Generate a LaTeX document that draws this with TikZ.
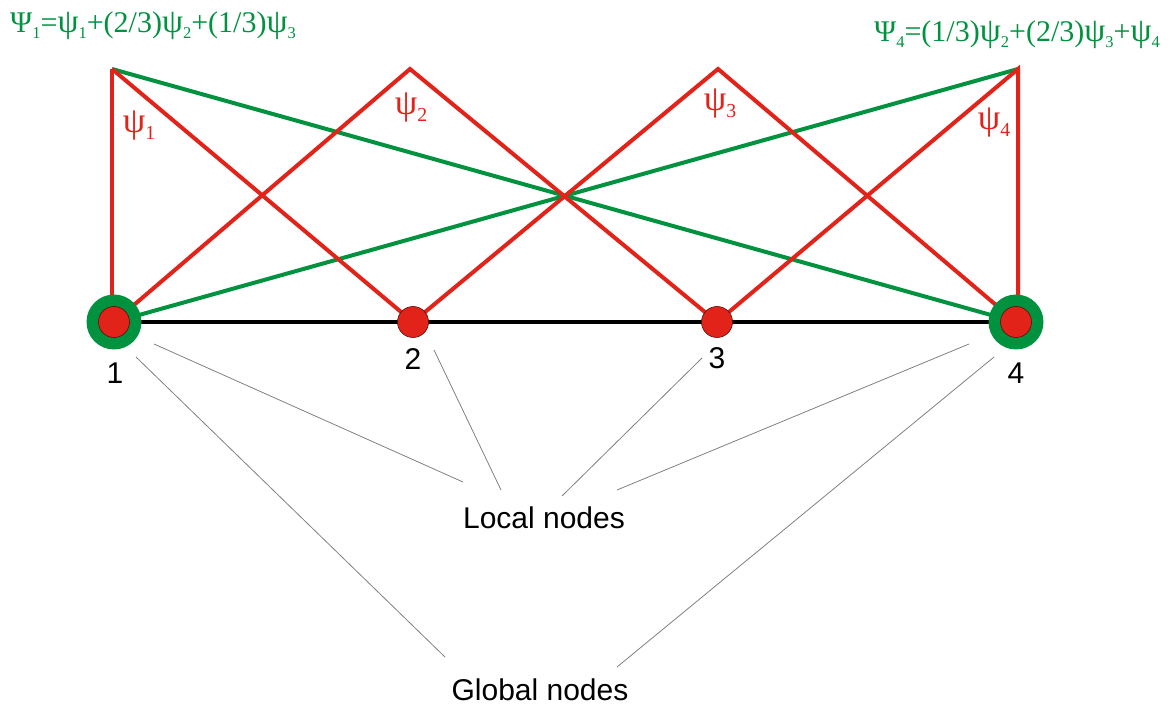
\documentclass[tikz,border=0pt]{standalone}
\usepackage{fontspec}
\setmainfont{Liberation Sans}
\newfontfamily\serifgreek{Liberation Serif}
\definecolor{fgreen}{RGB}{0,146,63}
\definecolor{fred}{RGB}{226,35,26}
\newcommand{\sbx}[1]{\raisebox{-0.18em}{\fontsize{0.55em}{0.6em}\selectfont #1}}
\newcommand{\bpsi}{{\fontsize{1.12em}{1.2em}\selectfont ψ}}
\begin{document}
\begin{tikzpicture}[x=1pt,y=-1pt,
  redline/.style={fred,line width=4pt,line join=miter},
  greenline/.style={fgreen,line width=4pt},
  baseline/.style={black,line width=4pt},
  pointer/.style={gray,line width=0.8pt},
  outerdot/.style={circle,fill=fgreen,minimum size=55pt,inner sep=0pt},
  innerdot/.style={circle,fill=fred,draw=black!60!fred,line width=0.6pt,minimum size=31pt,inner sep=0pt},
  numlabel/.style={font=\fontsize{30}{32}\selectfont},
  psilabel/.style={fred,font=\serifgreek\fontsize{36}{38}\selectfont},
  formula/.style={fgreen,font=\serifgreek\fontsize{30}{32}\selectfont,inner sep=0pt},
  caption/.style={font=\fontsize{30}{32}\selectfont}]
\useasboundingbox (0,0) rectangle (1170,708);
% node positions
\coordinate (p1) at (114,322);
\coordinate (p2) at (413,322);
\coordinate (p3) at (717,322);
\coordinate (p4) at (1016,322);
% peaks
\coordinate (t1) at (112,69);
\coordinate (t2) at (410,69);
\coordinate (t3) at (718,69);
\coordinate (t4) at (1018,69);
% baseline
\draw[baseline] (p1) -- (p4);
% green combined functions
\draw[greenline] (t1) -- (p4);
\draw[greenline] (p1) -- (t4);
% red shape functions
\draw[redline] (t1) -- (t1 |- p1);
\draw[redline] (t1) -- (p2);
\draw[redline] (p1) -- (t2) -- (p3);
\draw[redline] (p2) -- (t3) -- (p4);
\draw[redline] (p3) -- (t4) -- (t4 |- p4);
% nodes
\node[outerdot] (g1) at (p1) {};
\node[outerdot] (g4) at (p4) {};
\node[innerdot] (n1) at (p1) {};
\node[innerdot] (n2) at (p2) {};
\node[innerdot] (n3) at (p3) {};
\node[innerdot] (n4) at (p4) {};
% number labels
\node[numlabel] (l1) at (115,373) {1};
\node[numlabel] (l2) at (413,359) {2};
\node[numlabel] (l3) at (717,358) {3};
\node[numlabel] (l4) at (1016,373) {4};
% psi labels
\node[psilabel] (s1) at (139,126) {ψ\sbx{1}};
\node[psilabel] (s2) at (411,108) {ψ\sbx{2}};
\node[psilabel] (s3) at (720,104) {ψ\sbx{3}};
\node[psilabel] (s4) at (994,123) {ψ\sbx{4}};
% formulas
\node[formula,anchor=base west] (f1) at (10,33) {Ψ\sbx{1}=\bpsi\sbx{1}+(2/3)\bpsi\sbx{2}+(1/3)\bpsi\sbx{3}};
\node[formula,anchor=base east] (f4) at (1160,42) {Ψ\sbx{4}=(1/3)\bpsi\sbx{2}+(2/3)\bpsi\sbx{3}+\bpsi\sbx{4}};
% captions
\node[caption] (local) at (544,518) {Local nodes};
\node[caption] (global) at (540,690) {Global nodes};
% pointer lines
\coordinate (a1) at (154,344);
\coordinate (a2) at (434,350);
\coordinate (a3) at (702,358);
\coordinate (a4) at (969,344);
\coordinate (b1) at (136,357);
\coordinate (b4) at (994,357);
\coordinate (e1) at (463,482);
\coordinate (e2) at (501,490);
\coordinate (e3) at (562,496);
\coordinate (e4) at (617,490);
\coordinate (h1) at (445,657);
\coordinate (h4) at (617,667);
\draw[pointer] (a1) -- (e1);
\draw[pointer] (a2) -- (e2);
\draw[pointer] (a3) -- (e3);
\draw[pointer] (a4) -- (e4);
\draw[pointer] (b1) -- (h1);
\draw[pointer] (b4) -- (h4);
\end{tikzpicture}
\end{document}
